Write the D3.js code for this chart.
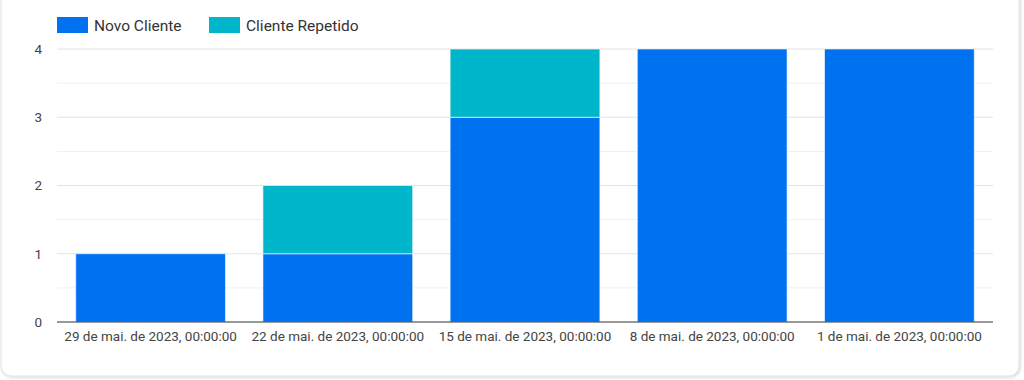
<!DOCTYPE html>
<html>
<head>
<meta charset="utf-8">
<script src="https://cdn.jsdelivr.net/npm/d3@7"></script>
<style>
  body { margin: 0; background: #fff; font-family: Roboto, sans-serif; }
  svg { display: block; }
</style>
</head>
<body>
<svg id="chart"></svg>
<script>
// data
var categories = ["29 de mai. de 2023, 00:00:00", "22 de mai. de 2023, 00:00:00", "15 de mai. de 2023, 00:00:00", "8 de mai. de 2023, 00:00:00", "1 de mai. de 2023, 00:00:00"];
var novoCliente = [1, 1, 3, 4, 4];
var clienteRepetido = [0, 1, 1, 0, 0];
var seriesNames = ["Novo Cliente", "Cliente Repetido"];
var yTicks = [0, 1, 2, 3, 4];

var colors = ["#0072f0", "#00b6cb"];
var width = 1024, height = 380;
var plotLeft = 57, plotRight = 993, plotTop = 49, plotBottom = 322;

var svg = d3.select("#chart").attr("width", width).attr("height", height);

// card
svg.append("defs").append("filter").attr("id", "sh")
  .append("feDropShadow").attr("dx", 1).attr("dy", 1).attr("stdDeviation", 1.5)
  .attr("flood-color", "#000").attr("flood-opacity", 0.18);
svg.append("rect").attr("x", 1).attr("y", -10).attr("width", 1018).attr("height", 386)
  .attr("rx", 10).attr("fill", "#fff").attr("stroke", "#e2e2e2").attr("filter", "url(#sh)");

var table = categories.map(function(c, i) {
  return { cat: c, "Novo Cliente": novoCliente[i], "Cliente Repetido": clienteRepetido[i] };
});
var stacked = d3.stack().keys(seriesNames)(table);

var x = d3.scaleBand().domain(categories).range([plotLeft, plotRight]).paddingInner(0.2).paddingOuter(0.1);
var y = d3.scaleLinear().domain([0, 4]).range([plotBottom, plotTop]);

// grid
var g = svg.append("g");
d3.range(0.5, 4, 1).forEach(function(v) {
  g.append("line").attr("x1", plotLeft).attr("x2", plotRight).attr("y1", y(v)).attr("y2", y(v))
    .attr("stroke", "#f0f0f0");
});
yTicks.slice(1).forEach(function(v) {
  g.append("line").attr("x1", plotLeft).attr("x2", plotRight).attr("y1", y(v)).attr("y2", y(v))
    .attr("stroke", "#e2e2e2");
});

// bars
svg.selectAll("g.series").data(stacked).enter().append("g").attr("class", "series")
  .attr("fill", function(d, i) { return colors[i]; })
  .selectAll("rect").data(function(d) { return d.filter(function(p) { return p[1] > p[0]; }); }).enter()
  .append("rect")
  .attr("x", function(d) { return x(d.data.cat); })
  .attr("width", x.bandwidth())
  .attr("y", function(d) { return y(d[1]); })
  .attr("height", function(d) { return y(d[0]) - y(d[1]); })
  .attr("stroke", "#fff").attr("stroke-opacity", 0.6).attr("stroke-width", 1);

// y axis
var yAxis = svg.append("g").attr("transform", "translate(" + plotLeft + ",0)")
  .call(d3.axisLeft(y).tickValues(yTicks).tickSize(0).tickPadding(15).tickFormat(d3.format("d")));
yAxis.select(".domain").remove();
yAxis.selectAll("text").attr("font-family", "Roboto, sans-serif").attr("font-size", 13.5).attr("fill", "#444");

// x axis
var xAxis = svg.append("g").attr("transform", "translate(0," + plotBottom + ")")
  .call(d3.axisBottom(x).tickSize(0).tickPadding(9));
xAxis.select(".domain").attr("stroke", "#333").attr("stroke-width", 1.2).attr("d", "M" + plotLeft + ",0H" + plotRight);
xAxis.selectAll("text").attr("font-family", "Roboto, sans-serif").attr("font-size", 13.5).attr("fill", "#444");

// legend
var legX = [57, 209];
seriesNames.forEach(function(name, i) {
  var lg = svg.append("g").attr("transform", "translate(" + legX[i] + ",17)");
  lg.append("rect").attr("width", 31).attr("height", 16).attr("fill", colors[i]);
  lg.append("text").attr("x", 37).attr("y", 13.5).text(name)
    .attr("font-family", "Roboto, sans-serif").attr("font-size", 15.5).attr("fill", "#333");
});
</script>
</body>
</html>
